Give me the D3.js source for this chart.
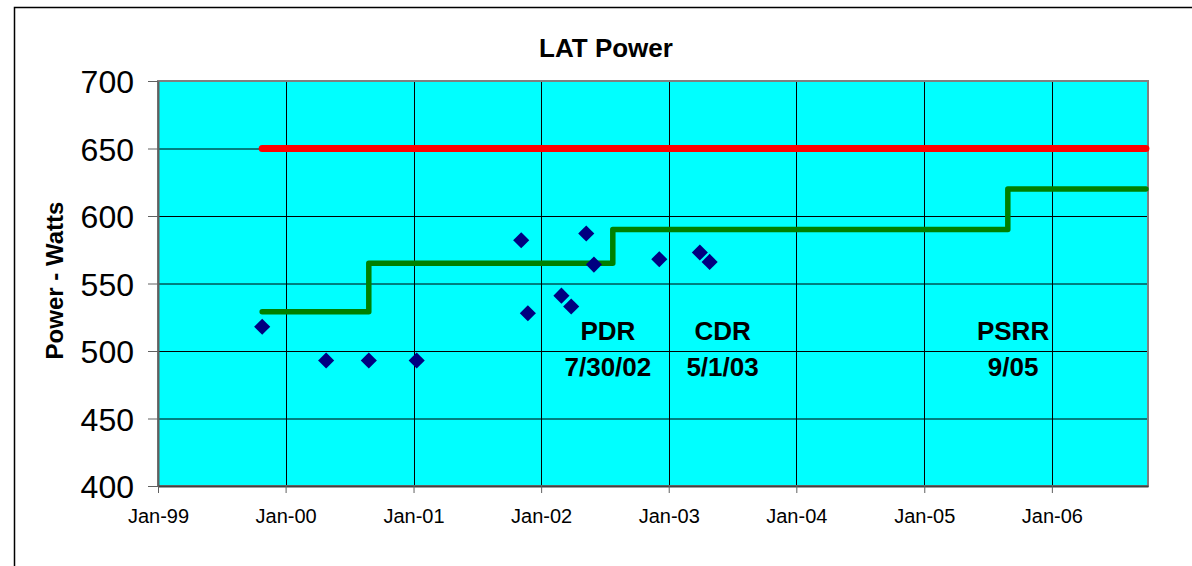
<!DOCTYPE html>
<meta charset="utf-8">
<script src="https://d3js.org/d3.v7.min.js"></script>
<style>
  body { margin: 0; background: #fff; }
  text { font-family: Arial, "Liberation Sans", sans-serif; }
</style>
<div id="chart"></div>
<script>
  // measured power points
  const pointDates = ["1999-10-26", "2000-04-26", "2000-08-26", "2001-01-10", "2001-11-05", "2001-11-24",
    "2002-02-28", "2002-03-28", "2002-05-10", "2002-06-01", "2002-12-05", "2003-03-31", "2003-04-28"];
  const pointWatts = [518, 493, 493, 493, 582, 528, 541, 533, 587, 564, 568, 573, 566];

  // allocation (green steps)
  const stepDates = ["1999-10-26", "2000-08-26", "2002-07-25", "2005-08-28", "2006-09-27"];
  const stepWatts = [529, 565, 590, 620, 620];

  // requirement (red)
  const limitDates = ["1999-10-26", "2006-09-27"];
  const limitWatts = [650, 650];

  // milestone notes
  const noteTop = ["PDR", "CDR", "PSRR"];
  const noteBottom = ["7/30/02", "5/1/03", "9/05"];
  const noteDates = ["2002-07-11", "2003-06-04", "2005-09-12"];

  const yTicks = [400, 450, 500, 550, 600, 650, 700];
  const xTickYears = [1999, 2000, 2001, 2002, 2003, 2004, 2005, 2006];

  const parse = d3.utcParse("%Y-%m-%d");
  const W = 1192, H = 566;
  const margin = { top: 81, right: 44, bottom: 80, left: 158 };
  const innerW = W - margin.left - margin.right,
        innerH = H - margin.top - margin.bottom;

  const svg = d3.select("#chart").append("svg")
    .attr("width", W).attr("height", H);

  // outer chart frame (right & bottom run off the page)
  svg.append("rect")
    .attr("x", 14.5).attr("y", 7.5)
    .attr("width", 1400).attr("height", 800)
    .attr("fill", "#fff").attr("stroke", "#000").attr("stroke-width", 1.5);

  const x = d3.scaleUtc()
    .domain([parse("1999-01-01"), parse("2006-10-03")])
    .range([0, innerW]);
  const y = d3.scaleLinear().domain([400, 700]).range([innerH, 0]);

  const g = svg.append("g").attr("transform", `translate(${margin.left},${margin.top})`);

  g.append("rect").attr("width", innerW).attr("height", innerH).attr("fill", "#00ffff");

  // gridlines
  g.selectAll(".hgrid").data(yTicks.slice(1, -1)).join("line")
    .attr("x1", 0).attr("x2", innerW)
    .attr("y1", d => y(d) + 0.5).attr("y2", d => y(d) + 0.5)
    .attr("stroke", "#000").attr("stroke-width", 1);
  g.selectAll(".vgrid").data(xTickYears.slice(1)).join("line")
    .attr("x1", d => Math.round(x(Date.UTC(d, 0, 1))) + 0.5)
    .attr("x2", d => Math.round(x(Date.UTC(d, 0, 1))) + 0.5)
    .attr("y1", 0).attr("y2", innerH)
    .attr("stroke", "#000").attr("stroke-width", 1);

  // plot border
  g.append("rect").attr("width", innerW).attr("height", innerH)
    .attr("fill", "none").attr("stroke", "#808080").attr("stroke-width", 2);

  // axes
  const yAxis = d3.axisLeft(y).tickValues(yTicks).tickSize(10).tickSizeOuter(0).tickPadding(14);
  g.append("g").call(yAxis)
    .call(a => a.select(".domain").attr("stroke", "#606060").attr("stroke-width", 2))
    .call(a => a.selectAll(".tick line").attr("stroke", "#606060"))
    .call(a => a.selectAll("text").attr("font-size", 32).attr("fill", "#000")
      .attr("font-family", "Arial, 'Liberation Sans', sans-serif").attr("dy", "0.36em"));

  const xAxis = d3.axisBottom(x)
    .tickValues(xTickYears.map(d => new Date(Date.UTC(d, 0, 1))))
    .tickFormat(d3.utcFormat("Jan-%y")).tickSize(7).tickSizeOuter(0).tickPadding(16);
  g.append("g").attr("transform", `translate(0,${innerH})`).call(xAxis)
    .call(a => a.select(".domain").attr("stroke", "#404040").attr("stroke-width", 2))
    .call(a => a.selectAll(".tick line").attr("stroke", "#606060"))
    .call(a => a.selectAll("text").attr("font-size", 20).attr("fill", "#000")
      .attr("font-family", "Arial, 'Liberation Sans', sans-serif"));

  // lines
  const limitLine = d3.line().x(d => x(parse(d[0]))).y(d => y(d[1]));
  g.append("path")
    .datum(d3.zip(limitDates, limitWatts))
    .attr("d", limitLine)
    .attr("fill", "none").attr("stroke", "#ff0000").attr("stroke-width", 7)
    .attr("stroke-linecap", "round");

  const stepLine = d3.line().curve(d3.curveStepAfter)
    .x(d => x(parse(d[0]))).y(d => y(d[1]));
  g.append("path")
    .datum(d3.zip(stepDates, stepWatts))
    .attr("d", stepLine)
    .attr("fill", "none").attr("stroke", "#008000").attr("stroke-width", 5.5)
    .attr("stroke-linejoin", "round").attr("stroke-linecap", "round");

  // diamonds
  const diamond = d3.symbol(d3.symbolSquare, 130);
  g.selectAll(".pt").data(d3.zip(pointDates, pointWatts)).join("path")
    .attr("d", diamond)
    .attr("transform", d => `translate(${x(parse(d[0]))},${y(d[1])}) rotate(45)`)
    .attr("fill", "#000080");

  // milestone notes
  const notes = g.selectAll(".note").data(noteTop).join("text")
    .attr("x", (d, i) => x(parse(noteDates[i])))
    .attr("y", y(508))
    .attr("text-anchor", "middle")
    .attr("font-size", 26).attr("font-weight", "bold");
  notes.append("tspan").text(d => d);
  notes.append("tspan")
    .attr("x", (d, i) => x(parse(noteDates[i])))
    .attr("dy", 36)
    .text((d, i) => noteBottom[i]);

  // titles
  svg.append("text")
    .attr("x", 606).attr("y", 57)
    .attr("text-anchor", "middle")
    .attr("font-size", 26).attr("font-weight", "bold")
    .text("LAT Power");

  svg.append("text")
    .attr("transform", `translate(63,${margin.top + innerH / 2 - 3}) rotate(-90)`)
    .attr("text-anchor", "middle")
    .attr("font-size", 24).attr("font-weight", "bold")
    .text("Power - Watts");
</script>
